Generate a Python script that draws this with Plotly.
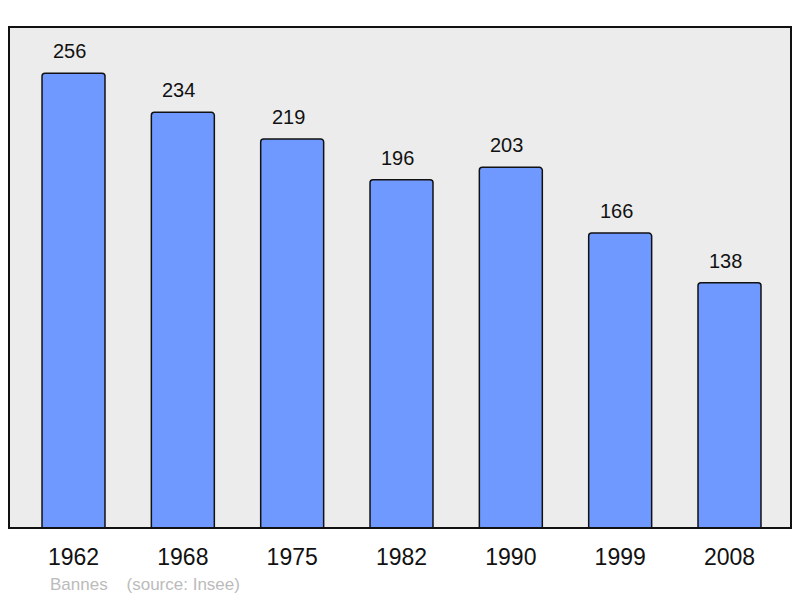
import plotly.graph_objects as go

years = ["1962", "1968", "1975", "1982", "1990", "1999", "2008"]
population = [256, 234, 219, 196, 203, 166, 138]
commune = "Bannes"
source = "(source: Insee)"

fig = go.Figure()
fig.add_trace(go.Bar(
    x=list(range(len(years))), y=population,
    width=0.576,
    marker=dict(color="#7099ff", line=dict(color="#111111", width=1.5), cornerradius=3),
    hoverinfo="skip",
))

for i, v in enumerate(population):
    fig.add_annotation(x=i, y=v, text=str(v), showarrow=False, yanchor="bottom",
                       yshift=9, xshift=-4, font=dict(size=20, color="#111111", family="Liberation Sans"))

fig.add_annotation(x=(48 - 9) / 782, y=-0.112, xref="paper", yref="paper", xanchor="left",
                   yanchor="middle", showarrow=False, text=commune + "&nbsp;&nbsp;&nbsp;&nbsp;" + source,
                   font=dict(size=17, color="#bbbbbb", family="Liberation Sans"))

fig.add_shape(type="rect", xref="paper", yref="paper", x0=0, x1=1, y0=0, y1=1,
              line=dict(color="#111111", width=2), fillcolor="rgba(0,0,0,0)", layer="above")

fig.update_layout(
    width=800, height=598,
    margin=dict(l=9, r=9, t=27, b=70),
    paper_bgcolor="white", plot_bgcolor="#ececec",
    showlegend=False,
    xaxis=dict(range=[-0.59, 6.5625], tickvals=list(range(len(years))), ticktext=years,
               showgrid=False, zeroline=False, ticks="", ticklabelstandoff=13,
               tickfont=dict(size=23, color="#111111", family="Liberation Sans")),
    yaxis=dict(range=[0, 282], showgrid=False, zeroline=False, showticklabels=False, ticks=""),
)

fig.write_html("out.html", config={"displayModeBar": False},
               post_script="document.body.style.margin='0';document.body.style.overflow='hidden';")
